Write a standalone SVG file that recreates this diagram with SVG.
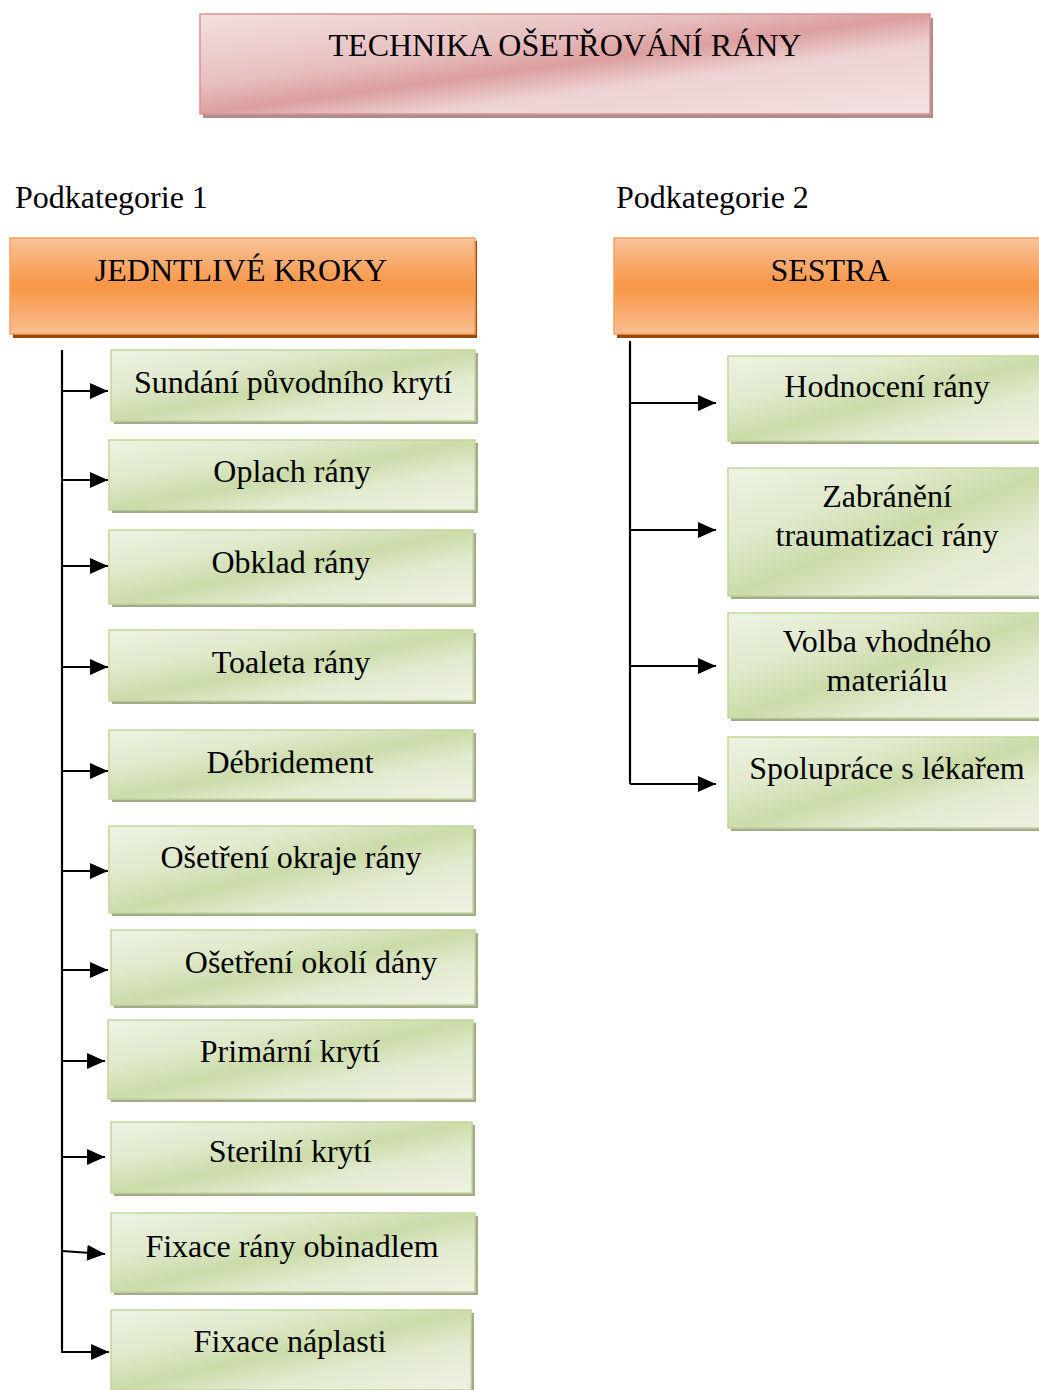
<svg xmlns="http://www.w3.org/2000/svg" width="1039" height="1390" viewBox="0 0 1039 1390">
<style>
text{font-family:"Liberation Serif","Times New Roman",serif;font-size:32px;fill:#000;}
.c{text-anchor:middle;}
.gb{fill:url(#gGreen);stroke:#c3d69b;stroke-width:1.5;}
.gs{fill:#a3ab8c;}
.ob{fill:url(#gOrange);stroke:#f5a060;stroke-width:1.5;}
.os{fill:#984807;}
.pb{fill:url(#gPink);stroke:#d99594;stroke-width:1.5;}
.ps{fill:#ae8c8c;}
.ln{stroke:#000;stroke-width:2.2;fill:none;}
.ar{stroke:#000;stroke-width:2.2;fill:none;marker-end:url(#ah);}
</style>
<defs>
<linearGradient id="gGreen" x1="0" y1="0" x2="1" y2="1">
<stop offset="0" stop-color="#edf3e3"/>
<stop offset="0.3" stop-color="#dfe9cb"/>
<stop offset="0.5" stop-color="#cbdba9"/>
<stop offset="0.7" stop-color="#e3ebd1"/>
<stop offset="1" stop-color="#edf2e2"/>
</linearGradient>
<linearGradient id="gOrange" x1="0" y1="0" x2="0" y2="1">
<stop offset="0" stop-color="#fac29a"/>
<stop offset="0.5" stop-color="#f79646"/>
<stop offset="1" stop-color="#fabe92"/>
</linearGradient>
<linearGradient id="gPink" x1="0" y1="0" x2="1" y2="1">
<stop offset="0" stop-color="#f3e0e0"/>
<stop offset="0.35" stop-color="#e7c0c0"/>
<stop offset="0.5" stop-color="#dc9e9e"/>
<stop offset="0.65" stop-color="#edd2d2"/>
<stop offset="1" stop-color="#f3e1e1"/>
</linearGradient>
<marker id="ah" markerUnits="userSpaceOnUse" markerWidth="18" markerHeight="16" refX="18" refY="8" orient="auto">
<path d="M0,0 L18,8 L0,16 Z" fill="#000"/>
</marker>
</defs>

<g id="title">
<rect class="ps" x="203" y="18" width="730" height="100"/>
<rect class="pb" x="200" y="14" width="730" height="100"/>
<text class="c" x="565" y="56">TECHNIKA OŠETŘOVÁNÍ RÁNY</text>
</g>

<g id="label1"><text x="15" y="208">Podkategorie 1</text></g>
<g id="label2"><text x="616" y="208">Podkategorie 2</text></g>

<g id="kroky">
<rect class="os" x="13" y="241" width="464" height="97"/>
<rect class="ob" x="10" y="238" width="465" height="96"/>
<text class="c" x="241" y="281">JEDNTLIVÉ KROKY</text>
</g>
<g id="sestra">
<rect class="os" x="617" y="241" width="430" height="97"/>
<rect class="ob" x="614" y="238" width="440" height="96"/>
<text class="c" x="830" y="281">SESTRA</text>
</g>

<g id="connectors">
<path class="ln" d="M62,350 V1352"/>
<path class="ar" d="M62,391 H108"/>
<path class="ar" d="M62,480 H108"/>
<path class="ar" d="M62,566 H108"/>
<path class="ar" d="M62,667 H108"/>
<path class="ar" d="M62,771 H108"/>
<path class="ar" d="M62,871 H108"/>
<path class="ar" d="M62,970 H108"/>
<path class="ar" d="M62,1061 H105"/>
<path class="ar" d="M62,1157 H105"/>
<path class="ar" d="M62,1251 L105,1254"/>
<path class="ar" d="M61,1352 H109"/>
<path class="ln" d="M630,341 V784"/>
<path class="ar" d="M630,403 H716"/>
<path class="ar" d="M630,530 H716"/>
<path class="ar" d="M630,666 H716"/>
<path class="ar" d="M630,784 H716"/>
</g>

<g id="n1"><rect class="gs" x="114" y="353" width="364" height="71"/><rect class="gb" x="111" y="350" width="364" height="71"/><text class="c" x="293" y="393">Sundání původního krytí</text></g>
<g id="n2"><rect class="gs" x="112" y="443" width="366" height="70"/><rect class="gb" x="109" y="440" width="366" height="70"/><text class="c" x="292" y="482">Oplach rány</text></g>
<g id="n3"><rect class="gs" x="112" y="533" width="364" height="74"/><rect class="gb" x="109" y="530" width="364" height="74"/><text class="c" x="291" y="573">Obklad rány</text></g>
<g id="n4"><rect class="gs" x="112" y="633" width="364" height="71"/><rect class="gb" x="109" y="630" width="364" height="71"/><text class="c" x="291" y="673">Toaleta rány</text></g>
<g id="n5"><rect class="gs" x="112" y="733" width="364" height="69"/><rect class="gb" x="109" y="730" width="364" height="69"/><text class="c" x="290" y="773">Débridement</text></g>
<g id="n6"><rect class="gs" x="112" y="829" width="364" height="87"/><rect class="gb" x="109" y="826" width="364" height="87"/><text class="c" x="291" y="868">Ošetření okraje rány</text></g>
<g id="n7"><rect class="gs" x="114" y="933" width="364" height="75"/><rect class="gb" x="111" y="930" width="364" height="75"/><text class="c" x="311" y="973">Ošetření okolí dány</text></g>
<g id="n8"><rect class="gs" x="111" y="1023" width="365" height="79"/><rect class="gb" x="108" y="1020" width="365" height="79"/><text class="c" x="290" y="1062">Primární krytí</text></g>
<g id="n9"><rect class="gs" x="114" y="1125" width="361" height="71"/><rect class="gb" x="111" y="1122" width="361" height="71"/><text class="c" x="290" y="1162">Sterilní krytí</text></g>
<g id="n10"><rect class="gs" x="114" y="1216" width="364" height="79"/><rect class="gb" x="111" y="1213" width="364" height="79"/><text class="c" x="292" y="1257">Fixace rány obinadlem</text></g>
<g id="n11"><rect class="gs" x="114" y="1313" width="360" height="80"/><rect class="gb" x="111" y="1310" width="360" height="80"/><text class="c" x="290" y="1352">Fixace náplasti</text></g>

<g id="r1"><rect class="gs" x="731" y="359" width="330" height="85"/><rect class="gb" x="728" y="356" width="330" height="85"/><text class="c" x="887" y="397">Hodnocení rány</text></g>
<g id="r2"><rect class="gs" x="731" y="471" width="330" height="128"/><rect class="gb" x="728" y="468" width="330" height="128"/><text class="c" x="887" y="507">Zabránění</text><text class="c" x="887" y="546">traumatizaci rány</text></g>
<g id="r3"><rect class="gs" x="731" y="616" width="330" height="105"/><rect class="gb" x="728" y="613" width="330" height="105"/><text class="c" x="887" y="652">Volba vhodného</text><text class="c" x="887" y="691">materiálu</text></g>
<g id="r4"><rect class="gs" x="731" y="740" width="330" height="91"/><rect class="gb" x="728" y="737" width="330" height="91"/><text class="c" x="887" y="779">Spolupráce s lékařem</text></g>
</svg>
